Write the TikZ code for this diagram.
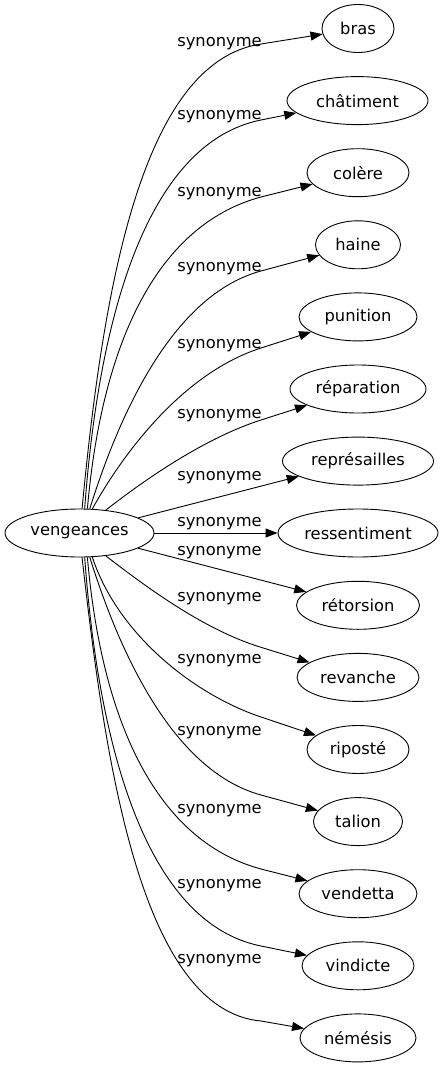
\documentclass[tikz,border=0pt]{standalone}
\usepackage{fontspec}
\setmainfont{DejaVu Sans}
\usetikzlibrary{arrows.meta,shapes.geometric}
\begin{document}
\begin{tikzpicture}[x=1pt,y=-1pt,
  every node/.style={font=\fontsize{16.3}{19}\selectfont},
  term/.style={draw, ellipse, line width=0.9pt, minimum height=48pt, inner sep=0pt},
  rel/.style={anchor=base},
  edge/.style={draw, line width=0.9pt, -{Triangle[length=12pt,width=9pt]}}]
\useasboundingbox (0,0) rectangle (443,1067);
% nodes
\node[term, minimum width=149pt] (v) at (79.5,533) {vengeances};
\node[term, minimum width=72pt]  (n1)  at (358,28.5)  {bras};
\node[term, minimum width=141pt] (n2)  at (357.5,100.6) {châtiment};
\node[term, minimum width=102pt] (n3)  at (358,172.7) {colère};
\node[term, minimum width=85pt]  (n4)  at (358,244.8) {haine};
\node[term, minimum width=118pt] (n5)  at (358,316.9) {punition};
\node[term, minimum width=136pt] (n6)  at (358,389)   {réparation};
\node[term, minimum width=151pt] (n7)  at (358,461.1) {représailles};
\node[term, minimum width=160pt] (n8)  at (358,533)   {ressentiment};
\node[term, minimum width=123pt] (n9)  at (358,605.3) {rétorsion};
\node[term, minimum width=122pt] (n10) at (358,677.4) {revanche};
\node[term, minimum width=102pt] (n11) at (358,749.5) {riposté};
\node[term, minimum width=89pt]  (n12) at (358,821.6) {talion};
\node[term, minimum width=118pt] (n13) at (358,893.7) {vendetta};
\node[term, minimum width=112pt] (n14) at (358,965.8) {vindicte};
\node[term, minimum width=116pt] (n15) at (358,1037.9) {némésis};
% labels
\node[rel] (l1)  at (219.5,46.7)  {synonyme};
\node[rel] (l2)  at (219.5,120)   {synonyme};
\node[rel] (l3)  at (219.5,196.7) {synonyme};
\node[rel] (l4)  at (219.5,271.7) {synonyme};
\node[rel] (l5)  at (219.5,348.3) {synonyme};
\node[rel] (l6)  at (219.5,418.3) {synonyme};
\node[rel] (l7)  at (219.5,480)   {synonyme};
\node[rel] (l8)  at (219.5,526.7) {synonyme};
\node[rel] (l9)  at (219.5,555)   {synonyme};
\node[rel] (l10) at (219.5,601.7) {synonyme};
\node[rel] (l11) at (219.5,663.3) {synonyme};
\node[rel] (l12) at (219.5,735)   {synonyme};
\node[rel] (l13) at (219.5,813.3) {synonyme};
\node[rel] (l14) at (219.5,888.3) {synonyme};
\node[rel] (l15) at (219.5,963.3) {synonyme};
% edges
\path[edge] (v.84) .. controls (103,290) and (141,62) .. (261,44) -- (n1);
\path[edge] (v.78) .. controls (100,300) and (153,141.6) .. (261,120) -- (n2);
\path[edge] (v.72.5) .. controls (103,330) and (164,223) .. (261,197) -- (n3);
\path[edge] (v.67) .. controls (125,396) and (180,292.9) .. (261,271) -- (n4);
\path[edge] (v.62) .. controls (125,450) and (184.8,372.4) .. (261,348) -- (n5);
\path[edge] (v.41) .. controls (143,481) and (203.8,438.3) .. (261,420) -- (n6);
\path[edge] (v) -- (n7);
\path[edge] (v) -- (n8);
\path[edge] (v) -- (n9);
\path[edge] (v.-41) .. controls (145,586) and (202.7,629.2) .. (260,647) -- (n10);
\path[edge] (v.-62) .. controls (118,635) and (194.6,694.8) .. (261,717) -- (n11);
\path[edge] (v.-67) .. controls (125,670) and (180,772.8) .. (261,795) -- (n12);
\path[edge] (v.-72.5) .. controls (103,736) and (164,843) .. (261,869) -- (n13);
\path[edge] (v.-78) .. controls (100,766) and (153,924.4) .. (261,946) -- (n14);
\path[edge] (v.-84) .. controls (105,760) and (140,1010) .. (261,1021) -- (n15);
\end{tikzpicture}
\end{document}
